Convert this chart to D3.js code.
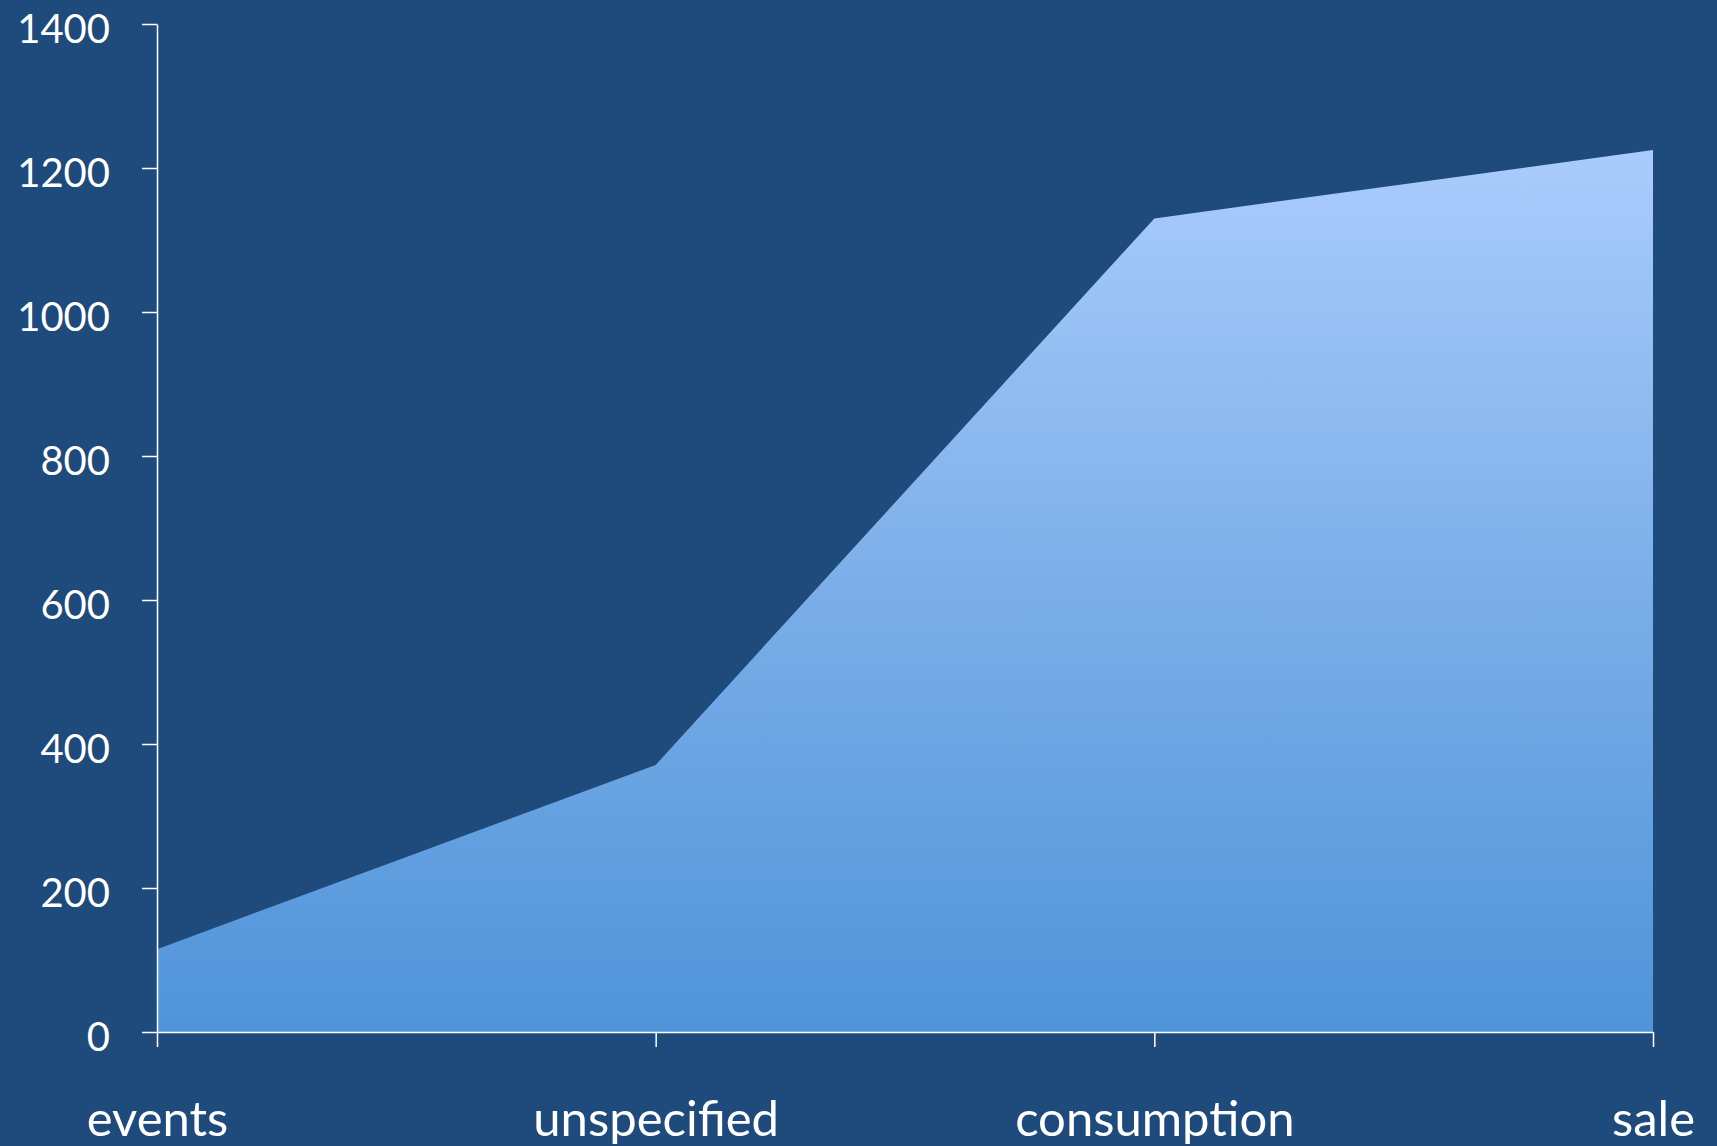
<!DOCTYPE html>
<html>
<head>
<meta charset="utf-8">
<script src="https://cdn.jsdelivr.net/npm/d3@7"></script>
<style>
  html, body { margin: 0; padding: 0; background: #1F4A7C; }
  svg { display: block; }
  .tick text { fill: #ffffff; font-family: Lato, "Open Sans", sans-serif; }
</style>
</head>
<body>
<svg id="chart" width="1717" height="1146"></svg>
<script>
// Area series: one value per category
const categories = ["events", "unspecified", "consumption", "sale"];
const values = [115, 371, 1130, 1225];
const yTicks = [0, 200, 400, 600, 800, 1000, 1200, 1400];

const W = 1717, H = 1146;
const margin = { left: 157, right: 64, top: 24, bottom: 114 };

const svg = d3.select("#chart");

const x = d3.scalePoint()
  .domain(categories)
  .range([margin.left, W - margin.right]);

const y = d3.scaleLinear()
  .domain([0, 1400])
  .range([H - margin.bottom, margin.top]);

// vertical gradient for the filled area, light at top, deeper blue at the base
const defs = svg.append("defs");
const grad = defs.append("linearGradient")
  .attr("id", "areaFill")
  .attr("gradientUnits", "userSpaceOnUse")
  .attr("x1", 0).attr("x2", 0)
  .attr("y1", y(d3.max(values))).attr("y2", y(0));
grad.append("stop").attr("offset", "0%").attr("stop-color", "#AACCFC");
grad.append("stop").attr("offset", "50%").attr("stop-color", "#7BAEE8");
grad.append("stop").attr("offset", "100%").attr("stop-color", "#4F94D9");

const area = d3.area()
  .x((d, i) => x(categories[i]))
  .y0(y(0))
  .y1(d => y(d));

svg.append("path")
  .datum(values)
  .attr("d", area)
  .attr("fill", "url(#areaFill)");

// y axis
const yAxis = svg.append("g")
  .attr("transform", `translate(${margin.left},0)`)
  .call(d3.axisLeft(y).tickValues(yTicks).tickFormat(d3.format("d"))
    .tickSize(15).tickPadding(32).tickSizeOuter(0));
yAxis.select(".domain").attr("stroke", "#ffffff").attr("stroke-width", 1.5);
yAxis.selectAll(".tick line").attr("stroke", "#ffffff").attr("stroke-width", 1.5);
yAxis.selectAll(".tick text")
  .attr("font-size", 40)
  .attr("dy", "0.45em");

// x axis
const xAxis = svg.append("g")
  .attr("transform", `translate(0,${y(0)})`)
  .call(d3.axisBottom(x).tickSize(15).tickPadding(54).tickSizeOuter(0));
xAxis.select(".domain").attr("stroke", "#ffffff").attr("stroke-width", 1.5);
xAxis.selectAll(".tick line").attr("stroke", "#ffffff").attr("stroke-width", 1.5);
xAxis.selectAll(".tick text")
  .attr("font-size", 49);
</script>
</body>
</html>
